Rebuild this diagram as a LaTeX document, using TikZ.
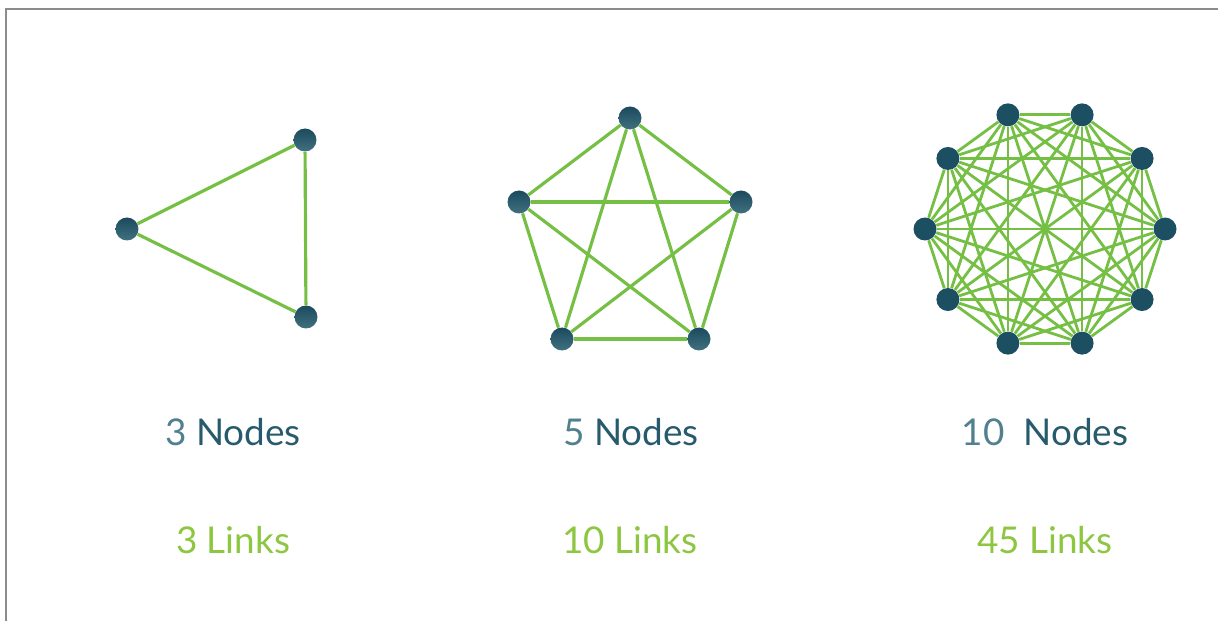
\documentclass[tikz,border=0pt]{standalone}
\usepackage{fontspec}
\setmainfont{Lato}
\usepackage{xcolor}
\usetikzlibrary{calc, positioning}

\definecolor{vtxteal}{HTML}{1D4F63}
\definecolor{tealtop}{HTML}{1B4A5D}
\definecolor{tealbot}{HTML}{41717F}
\definecolor{numcol}{HTML}{51808F}
\definecolor{wordcol}{HTML}{275A6D}
\definecolor{edgegreen}{HTML}{74BF44}
\definecolor{linkgreen}{HTML}{8DC641}

\tikzset{
  % vertex styles
  vtx/.style={
    circle, inner sep=0pt, minimum size=0.46cm
  },
  vtxshade/.style={
    vtx, top color=tealtop, bottom color=tealbot
  },
  vtxflat/.style={
    vtx, fill=vtxteal
  },
  % link style
  lnk/.style={
    draw=edgegreen, line width = 1.8pt
  },
  lbl/.style={
    font=\fontsize{21}{25}\selectfont, anchor=center
  },
}

\newcommand{\nodetxt}[2]{\textcolor{numcol}{#1}\ \textcolor{wordcol}{#2}}

\begin{document}
\begin{tikzpicture}[x=0.02cm, y=-0.02cm]
  \useasboundingbox (0,0) rectangle (1218,621);
  \draw[gray!90, line width=1pt] (6,621) -- (6,9) -- (1218,9);

  % three nodes
  \node (t1) [vtxshade] at (127,229) {};
  \node (t2) [vtxshade] at (305,140) {};
  \node (t3) [vtxshade] at (306,317) {};
  \draw[lnk] (t1) -- (t2);
  \draw[lnk] (t2) -- (t3);
  \draw[lnk] (t3) -- (t1);

  % five nodes
  \node (p1) [vtxshade] at (630,118) {};
  \node (p2) [vtxshade] at (741,202) {};
  \node (p3) [vtxshade] at (699,339) {};
  \node (p4) [vtxshade] at (562,339) {};
  \node (p5) [vtxshade] at (519,202) {};
  \foreach \i [evaluate=\i as \n using int(\i+1)] in {1,...,4}
    \foreach \j in {\n,...,5}
      \draw[lnk] (p\i) -- (p\j);

  % ten nodes
  \foreach \i in {0,...,9}
    \node (d\i) [vtxflat] at ({1045+120*cos(\i*36)},{229+120*sin(\i*36)}) {};
  \foreach \i [evaluate=\i as \n using int(\i+1)] in {0,...,8}
    \foreach \j in {\n,...,9}
      \draw[lnk, line width=1.6pt] (d\i) -- (d\j);

  % captions
  \node (c3) [lbl] at (233,432) {\nodetxt{3}{Nodes}};
  \node (c5) [lbl] at (631,432) {\nodetxt{5}{Nodes}};
  \node (c10) [lbl] at (1045,432) {\nodetxt{10\ }{Nodes}};
  \node (l3) [lbl, text=linkgreen] at (233,540) {3 Links};
  \node (l10) [lbl, text=linkgreen] at (630,540) {10 Links};
  \node (l45) [lbl, text=linkgreen] at (1045,540) {45 Links};
\end{tikzpicture}
\end{document}
